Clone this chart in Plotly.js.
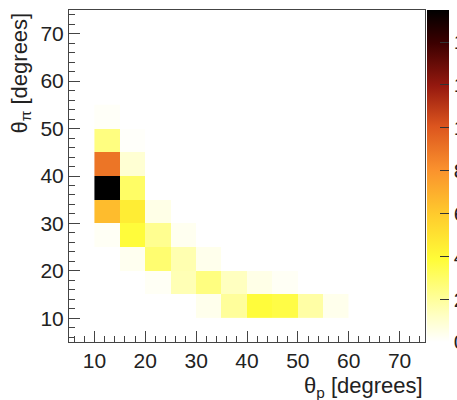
<!DOCTYPE html>
<html>
<head>
<meta charset="utf-8">
<script src="https://cdn.plot.ly/plotly-3.0.1.min.js"></script>
<style>html,body{margin:0;padding:0;background:#fff;overflow:hidden;}</style>
</head>
<body>
<div id="chart" style="width:457px;height:400px;"></div>
<script>
// bin centres (5-degree bins)
const thetaP = [12.5, 17.5, 22.5, 27.5, 32.5, 37.5, 42.5, 47.5, 52.5, 57.5];
const thetaPi = [12.5, 17.5, 22.5, 27.5, 32.5, 37.5, 42.5, 47.5, 52.5];
// bin contents, one row per theta_pi bin (ascending)
const row10 = [0, 0, 0, 0, 0.4, 2.0, 3.8, 3.6, 1.8, 0.4];
const row15 = [0, 0, 0.2, 1.5, 2.5, 1.3, 0.5, 0.2, 0, 0];
const row20 = [0, 0.3, 2.8, 1.6, 0.4, 0, 0, 0, 0, 0];
const row25 = [0.2, 3.8, 2.2, 0.3, 0, 0, 0, 0, 0, 0];
const row30 = [6.5, 4.5, 0.5, 0, 0, 0, 0, 0, 0, 0];
const row35 = [15.5, 3.0, 0, 0, 0, 0, 0, 0, 0, 0];
const row40 = [9.0, 0.9, 0, 0, 0, 0, 0, 0, 0, 0];
const row45 = [2.5, 0.1, 0, 0, 0, 0, 0, 0, 0, 0];
const row50 = [0.15, 0, 0, 0, 0, 0, 0, 0, 0, 0];
const counts = [row10, row15, row20, row25, row30, row35, row40, row45, row50];
const colorTicks = [0, 2, 4, 6, 8, 10, 12, 14];
const xTicks = [10, 20, 30, 40, 50, 60, 70];
const yTicks = [10, 20, 30, 40, 50, 60, 70];

const z = counts.map(r => r.map(v => v > 0 ? v : null));

const font = 'Liberation Sans, Arial, sans-serif';
const axisCommon = {
  range: [5, 75],
  showgrid: false,
  zeroline: false,
  showline: true,
  linecolor: '#444',
  linewidth: 1,
  mirror: true,
  ticks: 'inside',
  ticklen: 11,
  tickwidth: 1,
  tickcolor: '#444',
  tickfont: {family: font, size: 21, color: '#222'},
  tickmode: 'array',
  minor: {dtick: 2, ticks: 'inside', ticklen: 6, tickcolor: '#444', showgrid: false}
};

const trace = {
  type: 'heatmap',
  x: thetaP,
  y: thetaPi,
  z: z,
  zmin: 0,
  zmax: 15.5,
  xgap: 0, ygap: 0,
  hoverongaps: false,
  colorscale: [
    [0, 'rgb(255,255,255)'],
    [0.08, 'rgb(255,255,195)'],
    [0.25, 'rgb(255,252,55)'],
    [0.38, 'rgb(255,205,45)'],
    [0.52, 'rgb(250,145,45)'],
    [0.65, 'rgb(220,85,30)'],
    [0.77, 'rgb(150,25,15)'],
    [0.9, 'rgb(60,0,0)'],
    [1, 'rgb(0,0,0)']
  ],
  colorbar: {
    x: 1.0056, xanchor: 'left', xpad: 0,
    y: 0.5, yanchor: 'middle', ypad: 0,
    len: 1, lenmode: 'fraction',
    thickness: 22, thicknessmode: 'pixels',
    outlinewidth: 0,
    tickmode: 'array',
    tickvals: colorTicks,
    ticktext: colorTicks.map(String),
    ticks: 'inside', ticklen: 9, tickcolor: '#333',
    tickfont: {family: font, size: 21, color: '#222'}
  }
};

const layout = {
  width: 457, height: 400,
  margin: {l: 69, r: 32, t: 10, b: 58, autoexpand: false},
  paper_bgcolor: '#fff', plot_bgcolor: '#fff',
  xaxis: Object.assign({}, axisCommon, {tickvals: xTicks, ticktext: xTicks.map(String)}),
  yaxis: Object.assign({}, axisCommon, {tickvals: yTicks, ticktext: yTicks.map(String)}),
  showlegend: false,
  annotations: [
    {text: 'θ<sub>p</sub> [degrees]', xref: 'paper', yref: 'paper', x: 1, y: 0,
     xanchor: 'right', yanchor: 'top', yshift: -29, showarrow: false,
     font: {family: font, size: 22, color: '#222'}},
    {text: 'θ<sub>π</sub> [degrees]', xref: 'paper', yref: 'paper', x: 0, y: 1,
     xanchor: 'right', yanchor: 'top', xshift: -33, yshift: -1, textangle: -90, showarrow: false,
     font: {family: font, size: 22, color: '#222'}}
  ]
};

Plotly.newPlot('chart', [trace], layout, {displayModeBar: false, staticPlot: true});
</script>
</body>
</html>
